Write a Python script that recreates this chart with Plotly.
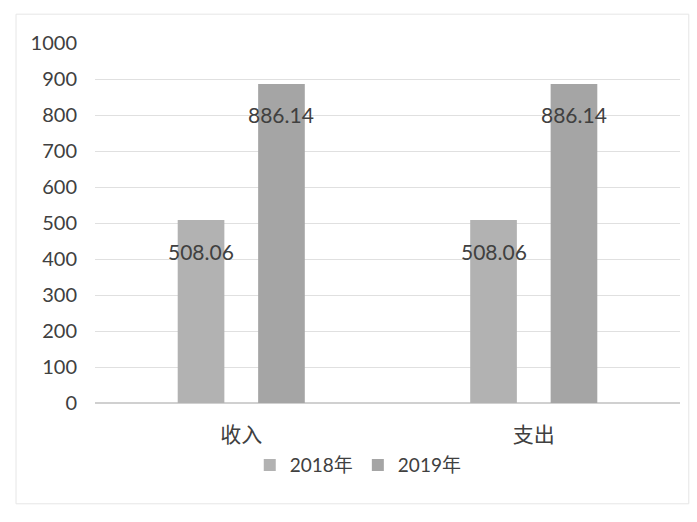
import plotly.graph_objects as go

categories = ["收入", "支出"]
series_names = ["2018年", "2019年"]
values_2018 = [508.06, 508.06]
values_2019 = [886.14, 886.14]
y_ticks = [0, 100, 200, 300, 400, 500, 600, 700, 800, 900, 1000]

bar_colors = ["#b2b2b2", "#a5a5a5"]
label_font = dict(family="Lato, Open Sans, sans-serif", size=21, color="#404040")

fig = go.Figure()
for name, vals, col in zip(series_names, [values_2018, values_2019], bar_colors):
    fig.add_trace(go.Bar(
        name=name, x=categories, y=vals,
        marker=dict(color=col, line=dict(width=0)),
    ))

annotations = []
for vals, shift in zip([values_2018, values_2019], [-40, 40]):
    for c, v in zip(categories, vals):
        annotations.append(dict(
            x=c, y=v, xref="x", yref="y", text=f"{v:.2f}", showarrow=False,
            xshift=shift, yshift=-31, font=label_font,
        ))

fig.update_layout(
    width=697, height=522,
    margin=dict(l=95, r=17, t=43, b=119),
    paper_bgcolor="white", plot_bgcolor="white",
    barmode="group", bargap=0.45, bargroupgap=0.42,
    showlegend=True,
    legend=dict(orientation="h", x=0.45, xanchor="center", y=-0.12, yanchor="top",
                font=dict(family="Lato, Noto Sans CJK SC, sans-serif", size=19, color="#404040"),
                itemwidth=30, traceorder="normal"),
    xaxis=dict(showgrid=False, showline=True, linecolor="#d0d0d0", linewidth=1,
               tickfont=dict(family="Noto Sans CJK SC, sans-serif", size=21, color="#404040"),
               ticks="", ticklabelstandoff=13),
    yaxis=dict(range=[0, 1000], tickvals=y_ticks, showgrid=True, gridcolor="#e0e0e0",
               gridwidth=1, zeroline=True, zerolinecolor="#d0d0d0",
               tickfont=dict(family="Lato, Open Sans, sans-serif", size=20, color="#404040"),
               ticks="", ticklabelstandoff=17),
    annotations=annotations,
    shapes=[dict(type="rect", xref="paper", yref="paper", x0=-0.135, x1=1.015, y0=-0.28, y1=1.08,
                 line=dict(color="#e6e6e6", width=1))],
)

fig.write_html("out.html")
